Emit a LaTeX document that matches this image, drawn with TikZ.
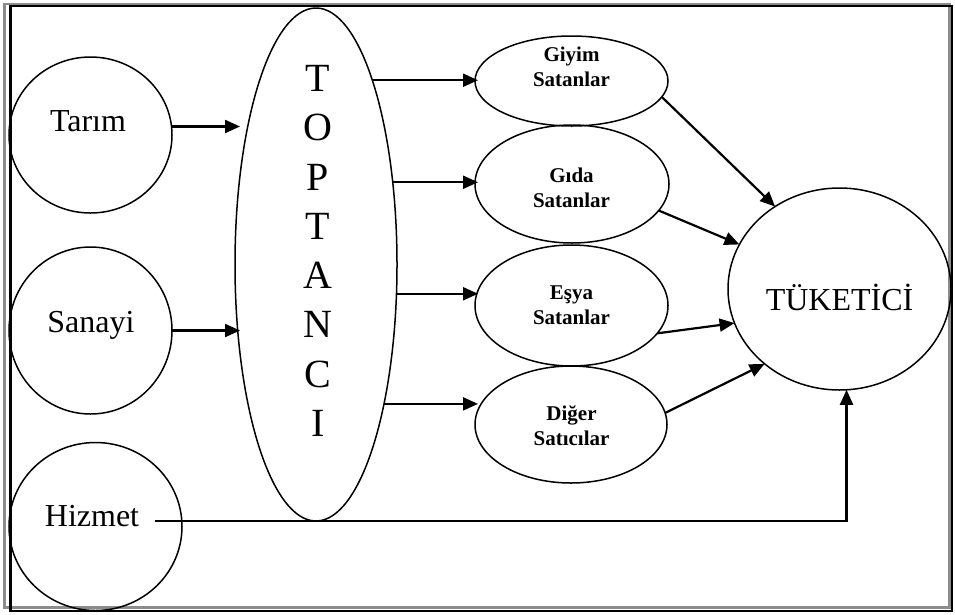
\documentclass[tikz,border=0pt]{standalone}
\usepackage{fontspec}
\setmainfont{Liberation Serif}
\usetikzlibrary{arrows.meta,shapes.geometric}
\begin{document}
\begin{tikzpicture}[x=1pt,y=-1pt,
  shp/.style={draw,ellipse,line width=1.5pt,inner sep=0pt,outer sep=0pt},
  big/.style={font=\fontsize{32}{38}\selectfont,inner sep=0pt,anchor=base},
  small/.style={font=\fontsize{21}{25}\selectfont\bfseries,align=center,inner sep=0pt},
  arr/.style={line width=2.2pt,-{Triangle[length=15pt,width=13pt]}}]
\useasboundingbox (0,0) rectangle (955,614);
% double frame
\draw[black!45, line width=2.6pt] (4.5,3.8) rectangle (949.5,607.3);
\draw[black, line width=2.2pt] (10.5,6.2) rectangle (952,611.2);
% shapes
\node[shp, minimum width=163pt, minimum height=156pt] (tarim) at (90.5,135) {};
\node[shp, minimum width=163pt, minimum height=167pt] (sanayi) at (90.5,330.5) {};
\node[shp, minimum width=173pt, minimum height=168pt] (hizmet) at (95.5,526.5) {};
\node[shp, minimum width=162pt, minimum height=513pt] (top) at (316,264.5) {};
\node[shp, minimum width=193pt, minimum height=90pt] (giyim) at (571.5,81) {};
\node[shp, minimum width=194pt, minimum height=118pt] (gida) at (572,184) {};
\node[shp, minimum width=193pt, minimum height=121pt] (esya) at (571.5,305.5) {};
\node[shp, minimum width=192pt, minimum height=117pt] (diger) at (571,424.5) {};
\node[shp, minimum width=223pt, minimum height=202pt] (tuk) at (839.5,289) {};
% texts
\node[big] (tarimT) at (88,131) {Tarım};
\node[big] (sanayiT) at (91,332) {Sanayi};
\node[big] (hizmetT) at (92,526) {Hizmet};
\node[big] (tukT) at (839.5,310) {TÜKETİCİ};
\node[font=\fontsize{40}{49.3}\selectfont, align=center, inner sep=0pt, anchor=north] (topT) at (318,65) {T\\O\\P\\T\\A\\N\\C\\I};
\node[small] (giyimT) at (571.5,66.5) {Giyim\\Satanlar};
\node[small] (gidaT) at (571.5,187.5) {Gıda\\Satanlar};
\node[small] (esyaT) at (571.5,305.5) {Eşya\\Satanlar};
\node[small] (digerT) at (571.5,425.5) {Diğer\\Satıcılar};
% connectors
\draw[arr, shorten >=-5pt] (tarim.6) -- (tarim.6 -| top.west);
\draw[arr, shorten >=-5pt] (sanayi.east) -- (sanayi.east -| top.west);
\draw[arr, shorten >=-3pt] (top.73) -- (top.73 -| giyim.west);
\draw[arr, shorten >=-3pt] (top.47) -- (top.47 -| gida.west);
\draw[arr, shorten >=-3pt] (top.340) -- (top.340 -| esya.west);
\draw[arr, shorten >=-3pt] (top.296) -- (top.296 -| diger.west);
\draw[arr] (giyim.350) -- (tuk.128);
\draw[arr] (gida.343) -- (tuk.156);
\draw[arr] (esya.342) -- (tuk.198);
\draw[arr] (diger.7) -- (tuk.225);
\coordinate (hstart) at (155,521);
\draw[arr] (hstart) -| (tuk.274);
\end{tikzpicture}
\end{document}
